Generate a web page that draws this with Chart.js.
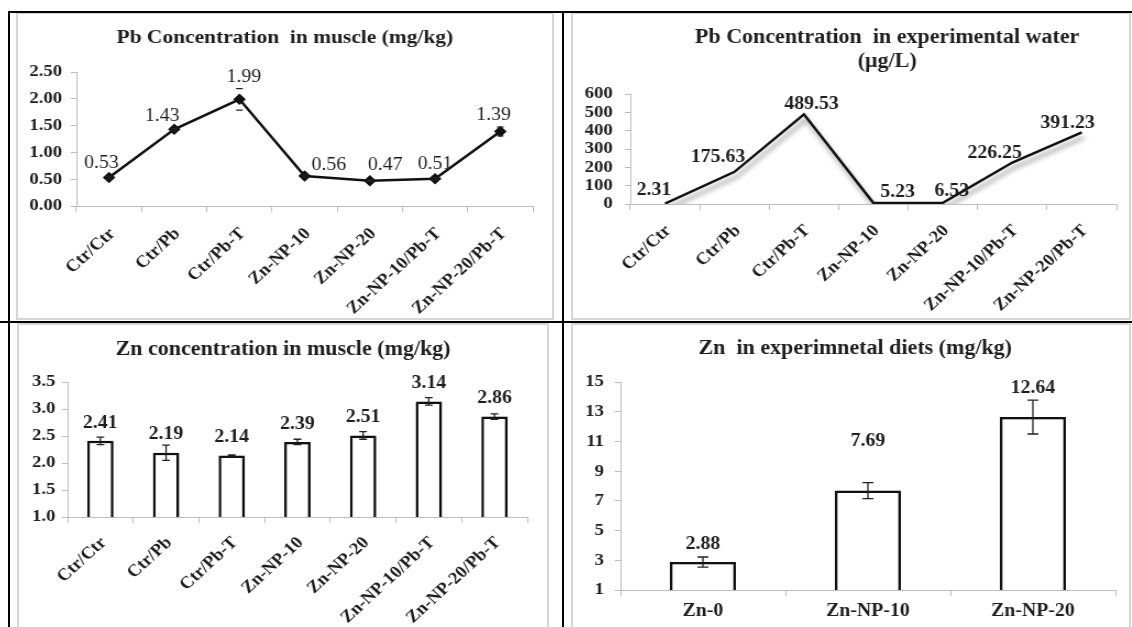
<!DOCTYPE html>
<html>
<head>
<meta charset="utf-8">
<script src="https://cdn.jsdelivr.net/npm/chart.js"></script>
<style>
  html, body { margin: 0; padding: 0; background: #fff; }
  body { width: 1132px; height: 627px; position: relative; overflow: hidden; }
  .panel { position: absolute; border: 2px solid #d6d6d6; box-sizing: border-box; }
  .rule { position: absolute; background: #000; }
  canvas { position: absolute; transform: scaleX(1.1); transform-origin: 0 0; }
</style>
</head>
<body>
<div class="panel" style="left:16px;top:12px;width:538px;height:308px"></div>
<div class="panel" style="left:571px;top:12px;width:560px;height:308px"></div>
<div class="panel" style="left:17px;top:323px;width:532px;height:320px"></div>
<div class="panel" style="left:571px;top:323px;width:560px;height:320px"></div>

<canvas id="pbMuscleChart" width="487" height="306" style="left:17px;top:13px"></canvas>
<canvas id="pbWaterChart" width="573" height="306" style="left:572px;top:13px"></canvas>
<canvas id="znMuscleChart" width="482" height="304" style="left:18px;top:323px"></canvas>
<canvas id="znDietChart" width="515" height="304" style="left:572px;top:323px"></canvas>

<div class="rule" style="left:8px;top:11px;width:1124px;height:2px"></div>
<div class="rule" style="left:8px;top:11px;width:2px;height:616px"></div>
<div class="rule" style="left:562px;top:11px;width:2px;height:616px"></div>
<div class="rule" style="left:0px;top:321px;width:1132px;height:2px"></div>

<script>
  // categories
  const groups = ['Ctr/Ctr', 'Ctr/Pb', 'Ctr/Pb-T', 'Zn-NP-10', 'Zn-NP-20', 'Zn-NP-10/Pb-T', 'Zn-NP-20/Pb-T'];
  const dietGroups = ['Zn-0', 'Zn-NP-10', 'Zn-NP-20'];

  // series values
  const pbMuscle = [0.53, 1.43, 1.99, 0.56, 0.47, 0.51, 1.39];
  const pbMuscleErr = [0.02, 0.02, 0.2, 0.02, 0.01, 0.02, 0.08];
  const pbWater = [2.31, 175.63, 489.53, 5.23, 6.53, 226.25, 391.23];
  const znMuscle = [2.41, 2.19, 2.14, 2.39, 2.51, 3.14, 2.86];
  const znMuscleErr = [0.07, 0.14, 0.01, 0.05, 0.07, 0.07, 0.05];
  const znDiet = [2.88, 7.69, 12.64];
  const znDietErr = [0.34, 0.54, 1.14];

  // tick labels
  const pbMuscleTicks = [0, 0.5, 1, 1.5, 2, 2.5];
  const pbWaterTicks = [0, 100, 200, 300, 400, 500, 600];
  const znMuscleTicks = [1, 1.5, 2, 2.5, 3, 3.5];
  const znDietTicks = [1, 3, 5, 7, 9, 11, 13, 15];

  Chart.defaults.font.family = "'Liberation Serif', 'Times New Roman', serif";
  Chart.defaults.color = '#1e1e1e';
  Chart.defaults.animation = false;

  const axisGray = '#bdbdbd';
  const titleFont = { size: 20, weight: 'bold', lineHeight: 1.2 };
  const tickFont = { size: 17, weight: 'bold' };

  // soft shadow under the marks
  const dropShadow = {
    id: 'dropShadow',
    beforeDatasetsDraw(chart, args, opts) {
      const c = chart.ctx;
      c.save();
      c.shadowColor = opts.color;
      c.shadowBlur = opts.blur;
      c.shadowOffsetX = opts.x;
      c.shadowOffsetY = opts.y;
    },
    afterDatasetsDraw(chart) {
      chart.ctx.restore();
    }
  };

  // +/- error bars
  const errorBars = {
    id: 'errorBars',
    afterDatasetsDraw(chart, args, opts) {
      if (!opts.errors) return;
      const ctx = chart.ctx;
      const y = chart.scales.y;
      const values = chart.data.datasets[0].data;
      ctx.save();
      ctx.strokeStyle = '#222';
      ctx.lineWidth = 1.3;
      chart.getDatasetMeta(0).data.forEach((el, i) => {
        const top = y.getPixelForValue(values[i] + opts.errors[i]);
        const bot = y.getPixelForValue(values[i] - opts.errors[i]);
        const w = opts.capWidth / 2;
        ctx.beginPath();
        if (opts.stem) {
          ctx.moveTo(el.x, top);
          ctx.lineTo(el.x, bot);
        }
        ctx.moveTo(el.x - w, top); ctx.lineTo(el.x + w, top);
        ctx.moveTo(el.x - w, bot); ctx.lineTo(el.x + w, bot);
        ctx.stroke();
      });
      ctx.restore();
    }
  };

  // value printed next to each point / bar
  const valueLabels = {
    id: 'valueLabels',
    afterDatasetsDraw(chart, args, opts) {
      const ctx = chart.ctx;
      const values = chart.data.datasets[0].data;
      ctx.save();
      ctx.font = opts.font;
      ctx.fillStyle = '#1e1e1e';
      ctx.textAlign = 'center';
      ctx.textBaseline = 'middle';
      chart.getDatasetMeta(0).data.forEach((el, i) => {
        const off = opts.offsets[i] || opts.offsets[0];
        ctx.fillText(values[i].toFixed(2), el.x + off[0], el.y + off[1]);
      });
      ctx.restore();
    }
  };

  function yAxis(ticksArr, width, pad, fmt) {
    return {
      min: ticksArr[0],
      max: ticksArr[ticksArr.length - 1],
      afterBuildTicks: s => { s.ticks = ticksArr.map(v => ({ value: v })); },
      afterFit: s => { s.width = width; },
      border: { color: axisGray, width: 1 },
      grid: { drawOnChartArea: false, tickLength: 5, color: axisGray },
      ticks: { font: tickFont, padding: pad, autoSkip: false, callback: fmt }
    };
  }

  function xAxis(height, rotation, pad, size) {
    return {
      offset: true,
      afterFit: s => { s.height = height; },
      border: { color: axisGray, width: 1 },
      grid: { offset: true, drawOnChartArea: false, tickLength: 6, color: axisGray },
      ticks: {
        font: { size: size, weight: 'bold' },
        minRotation: rotation,
        maxRotation: rotation,
        autoSkip: false,
        padding: pad,
        labelOffset: rotation ? 3 : 0
      }
    };
  }

  // empty strip on the right so the title sits where it does in the figure
  function rightGap(width) {
    return {
      position: 'right',
      display: true,
      afterFit: s => { s.width = width; },
      grid: { display: false },
      border: { display: false },
      ticks: { display: false }
    };
  }

  // Pb in muscle
  new Chart(document.getElementById('pbMuscleChart'), {
    type: 'line',
    data: {
      labels: groups,
      datasets: [{
        data: pbMuscle,
        borderColor: '#111',
        borderWidth: 2.5,
        tension: 0,
        pointStyle: 'rectRot',
        pointRadius: 4,
        pointBackgroundColor: '#111',
        pointBorderColor: '#111'
      }]
    },
    options: {
      responsive: false,
      layout: { padding: 0 },
      plugins: {
        legend: { display: false },
        tooltip: { enabled: false },
        title: {
          display: true,
          text: 'Pb Concentration  in muscle (mg/kg)',
          font: { size: 19.5, weight: 'bold', lineHeight: 1.2 },
          color: '#1e1e1e',
          padding: { top: 13, bottom: 22.6 }
        },
        errorBars: { errors: pbMuscleErr, capWidth: 6, stem: false },
        valueLabels: {
          font: "18px 'Liberation Serif', serif",
          offsets: [[-7, -14], [-11, -13], [4, -22], [22, -11], [14, -16], [0, -14], [-6, -16]]
        }
      },
      scales: {
        x: xAxis(113, 45, 12, 17),
        y: yAxis(pbMuscleTicks, 54, 8, v => v.toFixed(2)),
        gap: rightGap(18)
      }
    },
    plugins: [errorBars, valueLabels]
  });

  // Pb in water
  new Chart(document.getElementById('pbWaterChart'), {
    type: 'line',
    data: {
      labels: groups,
      datasets: [{
        data: pbWater,
        borderColor: '#111',
        borderWidth: 2.5,
        tension: 0,
        pointRadius: 0
      }]
    },
    options: {
      responsive: false,
      layout: { padding: 0 },
      plugins: {
        legend: { display: false },
        tooltip: { enabled: false },
        title: {
          display: true,
          text: ['Pb Concentration  in experimental water', '(\u00b5g/L)'],
          font: titleFont,
          color: '#1e1e1e',
          padding: { top: 13, bottom: 20 }
        },
        dropShadow: { color: 'rgba(0,0,0,0.45)', blur: 5, x: 2, y: 5 },
        valueLabels: {
          font: "bold 18px 'Liberation Serif', serif",
          offsets: [[-10, -13], [-15, -14], [7, -10], [22, -11], [8, -11], [-16, -9], [-13, -9]]
        }
      },
      scales: {
        x: xAxis(115, 45, 11, 17),
        y: yAxis(pbWaterTicks, 53, 11, v => v),
        gap: rightGap(78)
      }
    },
    plugins: [dropShadow, valueLabels]
  });

  // Zn in muscle
  new Chart(document.getElementById('znMuscleChart'), {
    type: 'bar',
    data: {
      labels: groups,
      datasets: [{
        data: znMuscle,
        backgroundColor: '#fff',
        borderColor: '#111',
        borderWidth: 2.5,
        barPercentage: 0.4,
        categoryPercentage: 1
      }]
    },
    options: {
      responsive: false,
      layout: { padding: 0 },
      plugins: {
        legend: { display: false },
        tooltip: { enabled: false },
        title: {
          display: true,
          text: 'Zn concentration in muscle (mg/kg)',
          font: titleFont,
          color: '#1e1e1e',
          padding: { top: 15, bottom: 20 }
        },
        dropShadow: { color: 'rgba(0,0,0,0.3)', blur: 3, x: 3, y: 1 },
        errorBars: { errors: znMuscleErr, capWidth: 7, stem: true },
        valueLabels: {
          font: "bold 18px 'Liberation Serif', serif",
          offsets: [[0, -18]]
        }
      },
      scales: {
        x: xAxis(110, 45, 10, 17),
        y: yAxis(znMuscleTicks, 45, 6, v => v.toFixed(1)),
        gap: rightGap(19)
      }
    },
    plugins: [dropShadow, errorBars, valueLabels]
  });

  // Zn in diets
  new Chart(document.getElementById('znDietChart'), {
    type: 'bar',
    data: {
      labels: dietGroups,
      datasets: [{
        data: znDiet,
        backgroundColor: '#fff',
        borderColor: '#111',
        borderWidth: 2.5,
        barPercentage: 0.4,
        categoryPercentage: 1
      }]
    },
    options: {
      responsive: false,
      layout: { padding: 0 },
      plugins: {
        legend: { display: false },
        tooltip: { enabled: false },
        title: {
          display: true,
          text: 'Zn  in experimnetal diets (mg/kg)',
          font: titleFont,
          color: '#1e1e1e',
          padding: { top: 14, bottom: 21 }
        },
        dropShadow: { color: 'rgba(0,0,0,0.3)', blur: 3, x: 3, y: 1 },
        errorBars: { errors: znDietErr, capWidth: 10, stem: true },
        valueLabels: {
          font: "bold 18px 'Liberation Serif', serif",
          offsets: [[0, -18], [0, -49], [0, -29]]
        }
      },
      scales: {
        x: xAxis(37, 0, 5, 18),
        y: yAxis(znDietTicks, 44, 10, v => v),
        gap: rightGap(21)
      }
    },
    plugins: [dropShadow, errorBars, valueLabels]
  });
</script>
</body>
</html>
